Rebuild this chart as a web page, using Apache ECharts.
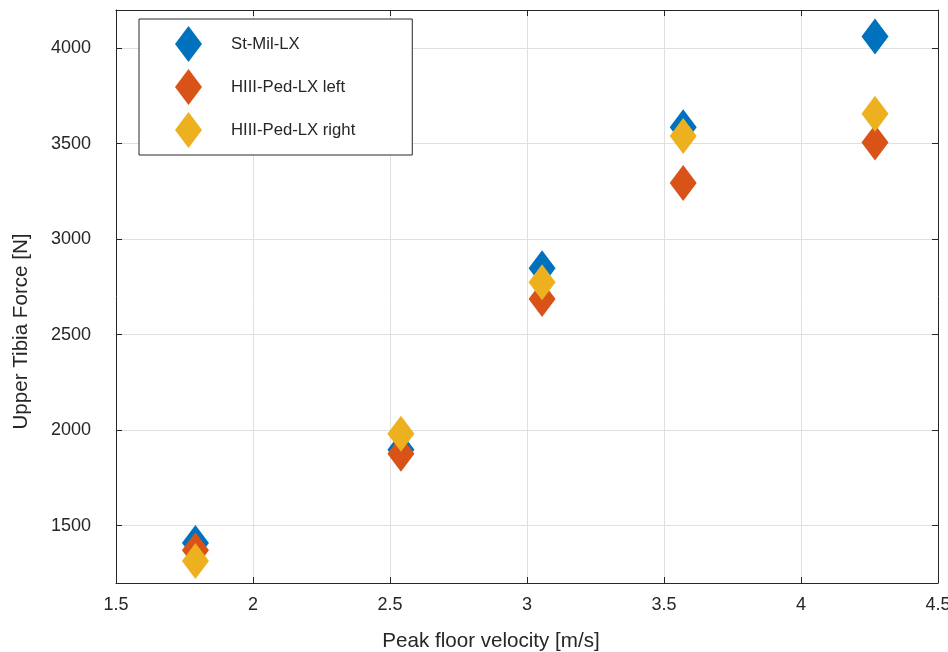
<!DOCTYPE html>
<html>
<head>
<meta charset="utf-8">
<script src="https://cdn.jsdelivr.net/npm/echarts@6/dist/echarts.min.js"></script>
<style>
html,body{margin:0;padding:0;background:#fff;}
#chart{width:948px;height:652px;}
</style>
</head>
<body>
<div id="chart"></div>
<script>
var velocities = [1.79, 2.54, 3.055, 3.57, 4.27];
var stMilLX = [1410, 1898, 2848, 3586, 4061];
var hiiiLeft = [1372, 1877, 2687, 3294, 3506];
var hiiiRight = [1315, 1982, 2775, 3540, 3657];
var seriesNames = ['St-Mil-LX', 'HIII-Ped-LX left', 'HIII-Ped-LX right'];
var seriesColors = ['#0072BD', '#D95319', '#EDB120'];
var xTicks = [1.5, 2, 2.5, 3, 3.5, 4, 4.5];
var yTicks = [1500, 2000, 2500, 3000, 3500, 4000];

function pairs(ys){ return velocities.map(function(x,i){ return [x, ys[i]]; }); }
var FONT = "'Liberation Sans', Arial, Helvetica, sans-serif";
var AX = '#262626';

var chart = echarts.init(document.getElementById('chart'), null, {renderer:'canvas'});
var values = [stMilLX, hiiiLeft, hiiiRight];
var option = {
  animation: false,
  backgroundColor: '#ffffff',
  grid: {left: 116, right: 10, top: 10, bottom: 69, containLabel: false, outerBoundsMode: 'none'},
  legend: {
    orient: 'vertical',
    left: 139, top: 19,
    padding: [7, 57, 7, 36],
    itemGap: 7,
    itemWidth: 27, itemHeight: 36,
    icon: 'diamond',
    backgroundColor: '#ffffff',
    borderColor: AX, borderWidth: 1,
    borderRadius: 0,
    textStyle: {fontFamily: FONT, fontSize: 16.7, color: AX, padding: [0,0,0,24]},
    data: seriesNames,
    selectedMode: false
  },
  xAxis: [{
    type: 'value', min: xTicks[0], max: xTicks[xTicks.length-1], interval: 0.5,
    name: 'Peak floor velocity [m/s]', nameLocation: 'middle', nameGap: 48,
    nameTextStyle: {fontFamily: FONT, fontSize: 20.6, color: AX, padding: [0, 72, 0, 0]},
    axisLine: {show: true, onZero: false, lineStyle: {color: AX, width: 1}},
    axisTick: {show: true, inside: true, length: 6, lineStyle: {color: AX}},
    axisLabel: {fontFamily: FONT, fontSize: 18, color: AX, margin: 13},
    splitLine: {show: true, lineStyle: {color: '#e0e0e0', width: 1}}
  }, {
    type: 'value', position: 'top', min: xTicks[0], max: xTicks[xTicks.length-1], interval: 0.5,
    axisLine: {show: true, onZero: false, lineStyle: {color: AX, width: 1}},
    axisTick: {show: true, inside: true, length: 6, lineStyle: {color: AX}},
    axisLabel: {show: false}, splitLine: {show: false}
  }],
  yAxis: [{
    type: 'value', min: 1200, max: 4200, splitNumber: 6,
    name: 'Upper Tibia Force [N]', nameLocation: 'middle', nameGap: 84,
    nameTextStyle: {fontFamily: FONT, fontSize: 20.6, color: AX, padding: [0, 70, 0, 0]},
    axisLine: {show: true, onZero: false, lineStyle: {color: AX, width: 1}},
    axisTick: {show: true, inside: true, length: 6, lineStyle: {color: AX}},
    axisLabel: {fontFamily: FONT, fontSize: 18, color: AX, margin: 25, showMinLabel: false, showMaxLabel: false,
      formatter: function(v){ return yTicks.indexOf(v) >= 0 ? String(v) : ''; }},
    splitLine: {show: true, lineStyle: {color: '#e0e0e0', width: 1}}
  }, {
    type: 'value', position: 'right', min: 1200, max: 4200, splitNumber: 6,
    axisLine: {show: true, onZero: false, lineStyle: {color: AX, width: 1}},
    axisTick: {show: true, inside: true, length: 6, lineStyle: {color: AX}},
    axisLabel: {show: false}, splitLine: {show: false}
  }],
  series: seriesNames.map(function(name, i){
    return {
      name: name, type: 'scatter', symbol: 'diamond', symbolSize: [27, 36],
      itemStyle: {color: seriesColors[i], opacity: 1},
      emphasis: {disabled: true},
      data: pairs(values[i]), z: 2 + i
    };
  })
};
chart.setOption(option);
</script>
</body>
</html>
